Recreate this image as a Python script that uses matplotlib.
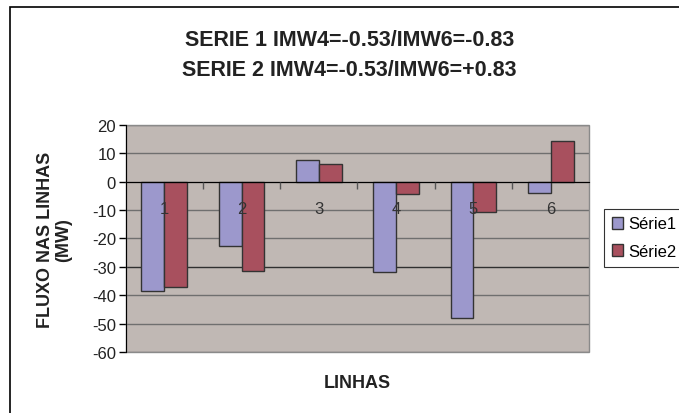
import matplotlib
matplotlib.use("Agg")
import matplotlib.pyplot as plt
import numpy as np
from matplotlib.patches import Rectangle

plt.rcParams["font.family"] = ["Liberation Sans", "DejaVu Sans"]
plt.rcParams["axes.unicode_minus"] = False

# data
linhas = ["1", "2", "3", "4", "5", "6"]
serie1 = [-38.4, -22.7, 7.5, -31.9, -48.1, -4.0]
serie2 = [-36.9, -31.4, 6.2, -4.5, -10.6, 14.2]
yticks = [20, 10, 0, -10, -20, -30, -40, -50, -60]

C1 = "#9C98CC"
C2 = "#A8505E"
BG = "#C0B8B4"

fig = plt.figure(figsize=(6.79, 4.14), dpi=100)
ax = fig.add_axes([0.185, 0.147, 0.683, 0.549])
ax.set_facecolor(BG)
ax.set_axisbelow(True)

x = np.arange(1, len(linhas) + 1)
w = 0.295
b1 = ax.bar(x - w / 2, serie1, w, color=C1, edgecolor="#333333", lw=1, label="Série1", zorder=3)
b2 = ax.bar(x + w / 2, serie2, w, color=C2, edgecolor="#333333", lw=1, label="Série2", zorder=3)

ax.set_xlim(0.5, 6.5)
ax.set_ylim(-60, 20)
ax.set_yticks(yticks)
ax.tick_params(axis="y", labelsize=12, length=5, width=1, pad=2, labelcolor="#222222")
ax.yaxis.grid(True, color="#6f6f6f", lw=1)
for t, gl in zip(ax.get_yticks(), ax.get_ygridlines()):
    if t == -30:
        gl.set_color("#303030")

# category axis crosses at zero, labels drawn over the bars
for s in ["top", "right"]:
    ax.spines[s].set_visible(False)
ax.spines["left"].set_color("black")
ax.spines["bottom"].set_position(("data", 0))
ax.spines["bottom"].set_color("black")
ax.spines["bottom"].set_zorder(4)
ax.xaxis.set_zorder(5)
ax.set_xticks(x)
ax.set_xticklabels(linhas)
ax.set_xticks(x[:-1] + 0.5, minor=True)
ax.tick_params(axis="x", which="major", length=0, labelsize=12, pad=14, labelcolor="#333333")
ax.tick_params(axis="x", which="minor", length=5, width=1, color="#555555", direction="out")
ax.add_patch(Rectangle((0, 0), 1, 1, transform=ax.transAxes, fill=False,
                       edgecolor="#8a8a8a", lw=1, zorder=2, clip_on=False))

fig.text(0.515, 0.903, "SERIE 1 IMW4=-0.53/IMW6=-0.83", ha="center", va="center",
         fontsize=15.5, fontweight="bold", color="#222222")
fig.text(0.515, 0.830, "SERIE 2 IMW4=-0.53/IMW6=+0.83", ha="center", va="center",
         fontsize=15.5, fontweight="bold", color="#222222")
fig.text(0.08, 0.42, "FLUXO NAS LINHAS\n(MW)", rotation=90, ha="center", va="center",
         fontsize=13, fontweight="bold", color="#222222", linespacing=1.05)
fig.text(0.526, 0.073, "LINHAS", ha="center", va="center",
         fontsize=13, fontweight="bold", color="#222222")

leg = fig.legend(handles=[b1, b2], loc="upper left", bbox_to_anchor=(604 / 679, 1 - 210 / 414),
                 fontsize=12, frameon=True, fancybox=False, handlelength=0.7, handleheight=0.7,
                 handletextpad=0.3, borderpad=0.45, labelspacing=0.75, borderaxespad=0)
leg.get_frame().set_edgecolor("black")
leg.get_frame().set_linewidth(0.8)

fig.add_artist(Rectangle((10 / 679, -0.1), 1.2, 1.1 - 8 / 414, transform=fig.transFigure,
                         fill=False, edgecolor="black", lw=1.2))

fig.savefig("out.png", dpi=100)
